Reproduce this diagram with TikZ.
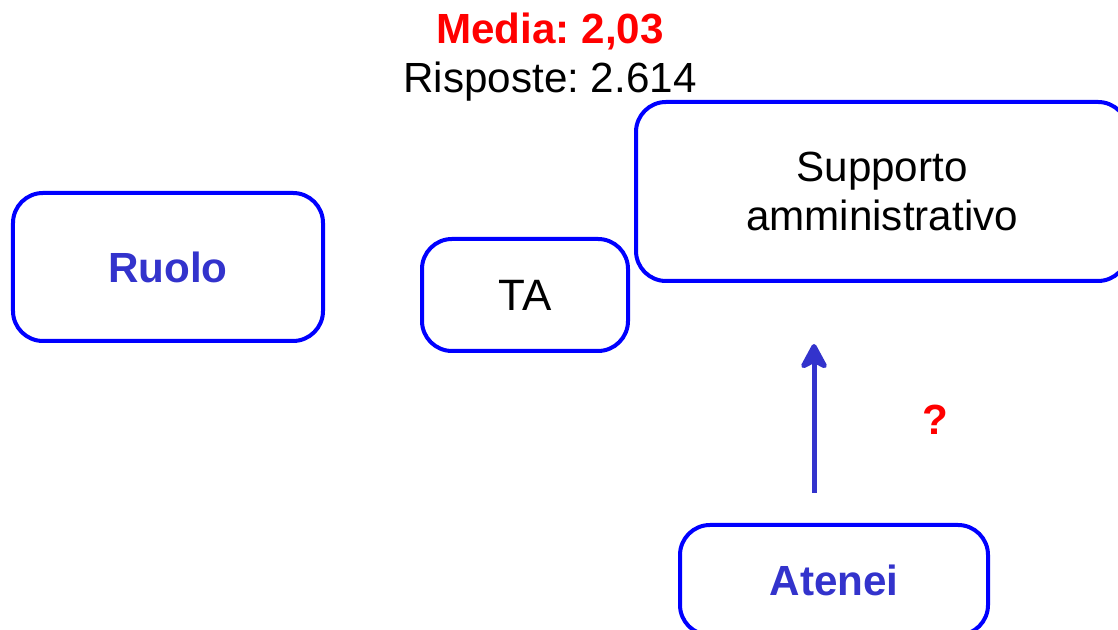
\documentclass[tikz,border=0pt]{standalone}
\usepackage{fontspec}
\setmainfont{Liberation Sans}
\usetikzlibrary{arrows.meta}
\definecolor{boxblue}{RGB}{0,0,255}
\definecolor{labelblue}{RGB}{51,51,204}
\definecolor{mediared}{RGB}{255,0,0}
\frenchspacing

\begin{document}
\begin{tikzpicture}[
    box/.style={draw=boxblue, line width=0.04cm, rounded corners=0.3cm, rectangle, inner sep=0pt, align=center},
    keylabel/.style={text=labelblue, font=\fontsize{12}{14.4}\selectfont\bfseries},
    plain/.style={font=\fontsize{12}{14.4}\selectfont}
]
				\useasboundingbox (0,0) rectangle (11.18,6.30);
				% Titolo
				\node (media) [text=mediared, font=\fontsize{12}{14.4}\selectfont\bfseries] at (5.50,5.99) {Media: 2,03};
				\node (risposte) [plain] at (5.50,5.48) {Risposte: 2.614};
				
				% Box
				\node (ruolo) [box, keylabel, minimum width=3.10cm, minimum height=1.48cm] at (1.68,3.63) {Ruolo};
				\node (ta) [box, font=\fontsize{12.5}{15}\selectfont, minimum width=2.06cm, minimum height=1.12cm] at (5.25,3.35) {TA};
				\node (supporto) [box, plain, minimum width=4.92cm, minimum height=1.79cm] at (8.82,4.385) {Supporto\\[-0.02cm]amministrativo};
				\node (atenei) [box, keylabel, minimum width=3.08cm, minimum height=1.10cm] at (8.34,0.50) {Atenei};
				
				% Freccia
				\coordinate (arrowfoot) at (8.14,1.37);
				\coordinate (arrowtip) at (8.14,2.86);
				\draw[-{Stealth[length=0.30cm, width=0.32cm, inset=0.08cm, round]}, labelblue, line width=0.05cm] (arrowfoot) -- (arrowtip);
				\node (domanda) [text=mediared, font=\fontsize{12}{14.4}\selectfont\bfseries] at (9.35,2.10) {?};
			\end{tikzpicture}
\end{document}
